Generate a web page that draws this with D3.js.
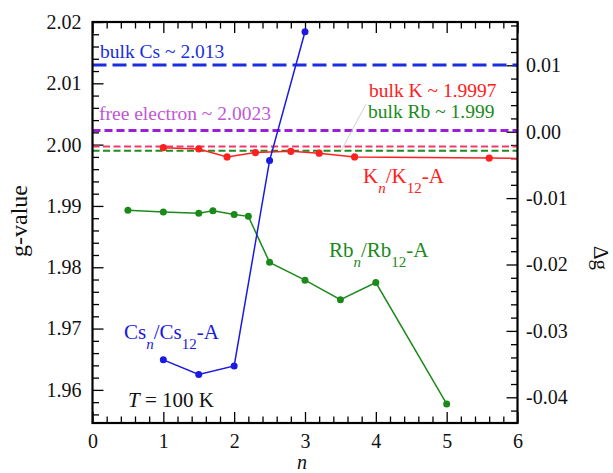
<!DOCTYPE html>
<html>
<head>
<meta charset="utf-8">
<script src="https://cdn.jsdelivr.net/npm/d3@7"></script>
<style>
html,body{margin:0;padding:0;background:#fff;}
svg{display:block;font-family:"Liberation Serif","Times New Roman",serif;}
</style>
</head>
<body>
<svg id="chart" width="613" height="473"></svg>
<script>
// ---- data ----
const csN = [1.0, 1.5, 2.0, 2.5, 3.0];
const csG = [1.9649, 1.9625, 1.9639, 1.9974, 2.0184];

const rbN = [0.5, 1.0, 1.5, 1.7, 2.0, 2.2, 2.5, 3.0, 3.5, 4.0, 5.0];
const rbG = [1.9893, 1.9890, 1.9888, 1.9892, 1.9886, 1.9883, 1.9808, 1.9779, 1.9747, 1.9775, 1.9577];

const kN = [1.0, 1.5, 1.9, 2.3, 2.8, 3.2, 3.7, 5.6, 6.5];
const kG = [1.9995, 1.9993, 1.9980, 1.9987, 1.9989, 1.9986, 1.9980, 1.9978, 1.9977];

const refNames = ["bulk Cs", "free electron", "bulk K", "bulk Rb"];
const refValues = [2.013, 2.0023, 1.9997, 1.999];

const xTickLabels = ["0", "1", "2", "3", "4", "5", "6"];
const leftTickLabels = ["1.96", "1.97", "1.98", "1.99", "2.00", "2.01", "2.02"];
const rightTickLabels = ["-0.04", "-0.03", "-0.02", "-0.01", "0.00", "0.01"];

// ---- layout ----
const L = 92.5, R = 517.5, T = 22, B = 423;
const svg = d3.select("#chart");
const serif = "Liberation Serif, Times New Roman, serif";

const x = d3.scaleLinear().domain([0, 6]).range([L, R]);
const y = d3.scaleLinear().domain([1.9546, 2.02]).range([B, T]);
const y2 = d3.scaleLinear().domain([-0.04387, 0.01652]).range([B, T]);

const blue = "#1a1ae0", red = "#ff2020", green = "#1b8a1b";

svg.append("defs").append("clipPath").attr("id", "clip")
  .append("rect").attr("x", L).attr("y", T).attr("width", R - L).attr("height", B - T);

// ---- axes ----
const majorLen = 11, minorLen = 6.5;
function styleAxis(g) {
  g.attr("font-family", serif);
  g.select(".domain").remove();
  g.selectAll(".tick line").attr("stroke", "#000").attr("stroke-width", 1.3);
  g.selectAll("text").attr("font-size", 20).attr("fill", "#111").attr("font-family", serif);
}
const xMajor = d3.range(0, 6.001, 1);
const xMinor = d3.range(0, 6.001, 0.2).filter(v => Math.abs(v - Math.round(v)) > 1e-6);
const yMajor = d3.range(1.96, 2.0201, 0.01);
const yMinor = d3.range(1.956, 2.0201, 0.002).filter(v => Math.abs(v * 100 - Math.round(v * 100)) > 1e-6);
const y2Major = d3.range(-0.04, 0.0101, 0.01);
const y2Minor = d3.range(-0.042, 0.0165, 0.002).filter(v => Math.abs(v * 100 - Math.round(v * 100)) > 1e-6);

// bottom
svg.append("g").attr("transform", `translate(0,${B})`)
  .call(d3.axisBottom(x).tickValues(xMajor).tickSize(-majorLen).tickPadding(10.5)
    .tickFormat((d, i) => xTickLabels[i])).call(styleAxis);
svg.append("g").attr("transform", `translate(0,${B})`)
  .call(d3.axisBottom(x).tickValues(xMinor).tickSize(-minorLen).tickFormat("")).call(styleAxis);
// top
svg.append("g").attr("transform", `translate(0,${T})`)
  .call(d3.axisTop(x).tickValues(xMajor).tickSize(-majorLen).tickFormat("")).call(styleAxis);
svg.append("g").attr("transform", `translate(0,${T})`)
  .call(d3.axisTop(x).tickValues(xMinor).tickSize(-minorLen).tickFormat("")).call(styleAxis);
// left
svg.append("g").attr("transform", `translate(${L},0)`)
  .call(d3.axisLeft(y).tickValues(yMajor).tickSize(-majorLen).tickPadding(11)
    .tickFormat((d, i) => leftTickLabels[i])).call(styleAxis);
svg.append("g").attr("transform", `translate(${L},0)`)
  .call(d3.axisLeft(y).tickValues(yMinor).tickSize(-minorLen).tickFormat("")).call(styleAxis);
// right
svg.append("g").attr("transform", `translate(${R},0)`)
  .call(d3.axisRight(y2).tickValues(y2Major).tickSize(-majorLen).tickPadding(8.5)
    .tickFormat((d, i) => rightTickLabels[i])).call(styleAxis);
svg.append("g").attr("transform", `translate(${R},0)`)
  .call(d3.axisRight(y2).tickValues(y2Minor).tickSize(-minorLen).tickFormat("")).call(styleAxis);

// ---- reference dashed lines ----
const refStyles = [
  {color: "#1a2ee0", w: 3, dash: "14,6"},
  {color: "#9a1fd6", w: 3, dash: "8,4"},
  {color: "#f5386c", w: 2, dash: "7,3.5"},
  {color: "#1e8c1e", w: 2, dash: "7,3.5"}
];
refValues.forEach((v, i) => {
  svg.append("line").attr("x1", L).attr("x2", R).attr("y1", y(v)).attr("y2", y(v))
    .attr("stroke", refStyles[i].color).attr("stroke-width", refStyles[i].w)
    .attr("stroke-dasharray", refStyles[i].dash);
});

// leader line
svg.append("line").attr("x1", 366).attr("y1", 104).attr("x2", 341).attr("y2", 151)
  .attr("stroke", "#c4c4c4").attr("stroke-width", 0.8);

// ---- series ----
function series(ns, gs, color, r) {
  const pts = ns.map((n, i) => [n, gs[i]]);
  const g = svg.append("g").attr("clip-path", "url(#clip)");
  g.append("path").datum(pts)
    .attr("d", d3.line().x(d => x(d[0])).y(d => y(d[1])))
    .attr("fill", "none").attr("stroke", color).attr("stroke-width", 1.5);
  g.selectAll("circle").data(pts).join("circle")
    .attr("cx", d => x(d[0])).attr("cy", d => y(d[1])).attr("r", r).attr("fill", color);
}
series(kN, kG, red, 3.6);
series(rbN, rbG, green, 3.5);
series(csN, csG, blue, 3.5);

// frame
svg.append("rect").attr("x", L).attr("y", T).attr("width", R - L).attr("height", B - T)
  .attr("fill", "none").attr("stroke", "#000").attr("stroke-width", 2.2);

// ---- texts ----
const txt = (xx, yy, s, color, size) => svg.append("text").attr("x", xx).attr("y", yy)
  .attr("fill", color).attr("font-size", size).text(s);

txt(100, 57.5, `${refNames[0]} ~ 2.013`, "#1a2ee0", 19.5);
txt(99, 120, `${refNames[1]} ~ 2.0023`, "#c058d6", 19.5);
txt(369, 96.5, `${refNames[2]} ~ 1.9997`, "#ff2020", 19.5);
txt(368, 118, `${refNames[3]} ~ 1.999`, "#1b8a1b", 19.5);

function labelSub(xx, yy, el, color) {
  const t = svg.append("text").attr("x", xx).attr("y", yy).attr("fill", color).attr("font-size", 21);
  t.append("tspan").text(el);
  t.append("tspan").attr("font-size", 15).attr("font-style", "italic").attr("dy", 10).text("n");
  t.append("tspan").attr("dy", -10).text("/" + el);
  t.append("tspan").attr("font-size", 15).attr("dy", 10).text("12");
  t.append("tspan").attr("dy", -10).text("-A");
}
labelSub(363, 183, "K", red);
labelSub(329, 256.5, "Rb", green);
labelSub(124, 338.5, "Cs", blue);

const tt = svg.append("text").attr("x", 128).attr("y", 406.5).attr("font-size", 21).attr("fill", "#111");
tt.append("tspan").attr("font-style", "italic").text("T");
tt.append("tspan").text(" = 100 K");

// axis titles
svg.append("text").attr("transform", "translate(27,221) rotate(-90)").attr("text-anchor", "middle")
  .attr("font-size", 24).attr("fill", "#111").text("g-value");
svg.append("text").attr("x", 302).attr("y", 468.5).attr("text-anchor", "middle")
  .attr("font-size", 20).attr("font-style", "italic").attr("fill", "#111").text("n");
svg.append("text").attr("transform", "translate(594,258) rotate(90)").attr("text-anchor", "middle")
  .attr("font-size", 21).attr("fill", "#111").text("Δg");
</script>
</body>
</html>
